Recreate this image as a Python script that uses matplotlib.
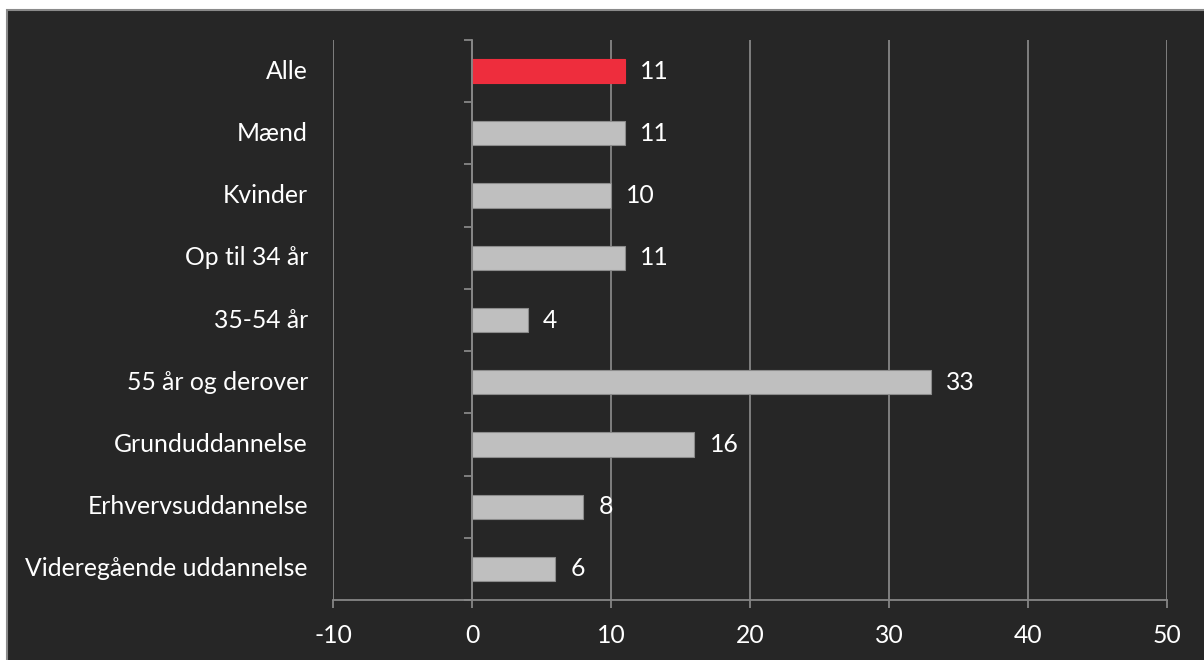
import matplotlib.pyplot as plt
import matplotlib.patches as mpatches
import matplotlib.transforms as mtransforms
import numpy as np

categories = ['Alle', 'Mænd', 'Kvinder', 'Op til 34 år', '35-54 år',
              '55 år og derover', 'Grunduddannelse', 'Erhvervsuddannelse',
              'Videregående uddannelse']
values = [11, 11, 10, 11, 4, 33, 16, 8, 6]
bar_colors = ['#EE2D3D'] + ['#BFBFBF'] * 8
x_ticks = [-10, 0, 10, 20, 30, 40, 50]

plt.rcParams['font.family'] = ['Lato', 'DejaVu Sans']

BG = '#262626'
GRID = '#868686'
FS = 17.8

fig = plt.figure(figsize=(12.04, 6.60), dpi=100, facecolor='white')
# dark panel with grey border, behind everything
panel = mpatches.Rectangle((7 / 1204, -0.01), 1.02, 1 - 10 / 660 + 0.01,
                           transform=fig.transFigure, facecolor=BG,
                           edgecolor='#8a8a8a', linewidth=1.5, zorder=-5)
fig.add_artist(panel)

ax = fig.add_axes([333 / 1204, 1 - 600 / 660, (1167 - 333) / 1204, 560 / 660])
ax.set_facecolor('none')
ax.set_zorder(2)

y = np.arange(len(categories))
ax.barh(y, values, height=0.39, color=bar_colors,
        edgecolor=['#EE2D3D'] + ['#8c8c8c'] * 8, linewidth=0.8, zorder=3)

for yi, v in zip(y, values):
    ax.annotate(f'{v}', (v, yi), xytext=(11, 0), textcoords='offset points',
                va='center', ha='left', color='white', fontsize=FS)

ax.set_xlim(-10, 50)
ax.set_ylim(len(categories) - 0.5, -0.5)
ax.set_xticks(x_ticks)
ax.set_xticklabels([str(t) for t in x_ticks])
ax.grid(axis='x', color=GRID, linewidth=1.3, zorder=1)
ax.tick_params(axis='x', colors=GRID, labelcolor='white', labelsize=FS,
               length=6, width=1.3, direction='out', pad=11)

# category axis crossing at x = 0, ticks between categories
ax.spines['left'].set_position(('data', 0))
ax.spines['left'].set_color(GRID)
ax.spines['left'].set_linewidth(1.3)
ax.spines['left'].set_zorder(4)
ax.set_yticks(np.arange(len(categories) + 1) - 0.5)
ax.set_yticklabels([])
ax.tick_params(axis='y', colors=GRID, length=6, width=1.3, direction='out')
ax.spines['bottom'].set_color(GRID)
ax.spines['bottom'].set_linewidth(1.3)
ax.spines['top'].set_visible(False)
ax.spines['right'].set_visible(False)

trans = mtransforms.blended_transform_factory(ax.transAxes, ax.transData)
for yi, name in zip(y, categories):
    ax.text(-0.03, yi, name, transform=trans, ha='right', va='center',
            color='white', fontsize=FS)

fig.savefig('out.png', dpi=100, facecolor=fig.get_facecolor())
